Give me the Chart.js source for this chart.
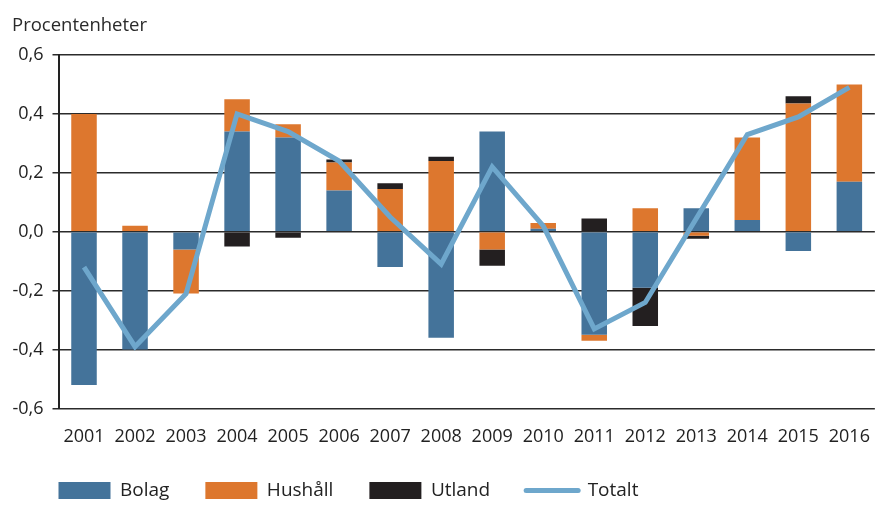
<!DOCTYPE html>
<html>
<head>
<meta charset="utf-8">
<script src="https://cdn.jsdelivr.net/npm/chart.js@4/dist/chart.umd.min.js"></script>
<style>
  html, body { margin: 0; padding: 0; background: #fff; overflow: hidden; }
  #wrap { width: 888px; height: 510px; position: relative; }
</style>
</head>
<body>
<div id="wrap"><canvas id="c"></canvas></div>
<script>
const titleText = 'Procentenheter';
const categories = ['2001','2002','2003','2004','2005','2006','2007','2008','2009','2010','2011','2012','2013','2014','2015','2016'];
const bolag   = [-0.52, -0.40, -0.06, 0.34, 0.32, 0.14, -0.12, -0.36, 0.34, 0.01, -0.35, -0.19, 0.08, 0.04, -0.065, 0.17];
const hushall = [0.40, 0.02, -0.15, 0.11, 0.045, 0.095, 0.145, 0.24, -0.06, 0.02, -0.02, 0.08, -0.014, 0.28, 0.435, 0.33];
const utland  = [0, 0, 0, -0.05, -0.02, 0.01, 0.02, 0.015, -0.055, 0, 0.045, -0.13, -0.01, 0, 0.025, 0];
const totalt  = [-0.12, -0.39, -0.21, 0.40, 0.34, 0.24, 0.05, -0.11, 0.22, 0.02, -0.33, -0.24, 0.045, 0.33, 0.39, 0.49];
const seriesNames = ['Bolag', 'Hushåll', 'Utland', 'Totalt'];

const C_BOLAG = '#44739A';
const C_HUSH = '#DD772E';
const C_UTL = '#231F20';
const C_TOT = '#6EA7CC';
const FONT = "'Open Sans', 'DejaVu Sans', sans-serif";

const titlePlugin = {
  id: 'topTitle',
  afterLayout(chart) {
    // align the legend's first box with the plot's left edge
    if (chart.legend) {
      const shift = chart.chartArea.left - (chart.legend.left + chart.legend.options.labels.padding);
      chart.legend.left += shift;
      chart.legend.right += shift;
    }
  },
  afterDraw(chart) {
    const ctx = chart.ctx;
    ctx.save();
    ctx.font = "18.5px " + FONT;
    ctx.fillStyle = '#2a2a2a';
    ctx.textAlign = 'left';
    ctx.textBaseline = 'alphabetic';
    ctx.fillText(titleText, 12, 31);
    ctx.restore();
  }
};

const barCommon = { stack: 'bars', order: 1, barPercentage: 0.5, categoryPercentage: 1.0, borderWidth: 0 };

new Chart(document.getElementById('c'), {
  type: 'bar',
  data: {
    labels: categories,
    datasets: [
      Object.assign({ label: seriesNames[0], data: bolag, backgroundColor: C_BOLAG }, barCommon),
      Object.assign({ label: seriesNames[1], data: hushall, backgroundColor: C_HUSH }, barCommon),
      Object.assign({ label: seriesNames[2], data: utland, backgroundColor: C_UTL }, barCommon),
      {
        type: 'line', label: seriesNames[3], data: totalt, stack: 'line', order: 0,
        borderColor: C_TOT, backgroundColor: C_TOT, borderWidth: 5,
        pointRadius: 0, pointHoverRadius: 0, tension: 0, fill: false
      }
    ]
  },
  options: {
    responsive: true,
    maintainAspectRatio: false,
    animation: false,
    events: [],
    layout: { padding: { top: 55, left: 6, right: 2, bottom: 0 } },
    scales: {
      x: {
        stacked: true,
        afterFit(scale) { scale.height = 36.5; },
        grid: { display: false, drawTicks: false },
        border: { display: false },
        ticks: { color: '#222', font: { family: FONT, size: 18 }, padding: 18, maxRotation: 0, autoSkip: false }
      },
      y: {
        stacked: true,
        min: -0.6, max: 0.6,
        afterFit(scale) { scale.width = 52.5; },
        grid: { color: '#2b2b2b', lineWidth: 1.5, tickLength: 6, drawTicks: true },
        border: { display: true, color: '#222', width: 2 },
        ticks: {
          stepSize: 0.2, color: '#222', padding: 9,
          font: { family: FONT, size: 18 },
          callback: (v) => (Math.abs(v) < 1e-9 ? 0 : v).toFixed(1).replace('.', ',')
        }
      }
    },
    plugins: {
      title: { display: false },
      tooltip: { enabled: false },
      legend: {
        position: 'bottom',
        align: 'start',
        labels: {
          usePointStyle: true,
          pointStyleWidth: 52,
          boxHeight: 17,
          padding: 36,
          color: '#222',
          font: { family: FONT, size: 19 },
          sort: (a, b) => a.datasetIndex - b.datasetIndex,
          generateLabels(chart) {
            const items = Chart.defaults.plugins.legend.labels.generateLabels(chart);
            items.forEach(it => {
              if (it.datasetIndex === 3) {
                it.pointStyle = 'line'; it.lineWidth = 5; it.strokeStyle = C_TOT; it.fillStyle = C_TOT;
                it.lineCap = 'round';
              } else {
                it.pointStyle = 'rect'; it.lineWidth = 0;
              }
            });
            return items;
          }
        }
      }
    }
  },
  plugins: [titlePlugin]
});
</script>
</body>
</html>
